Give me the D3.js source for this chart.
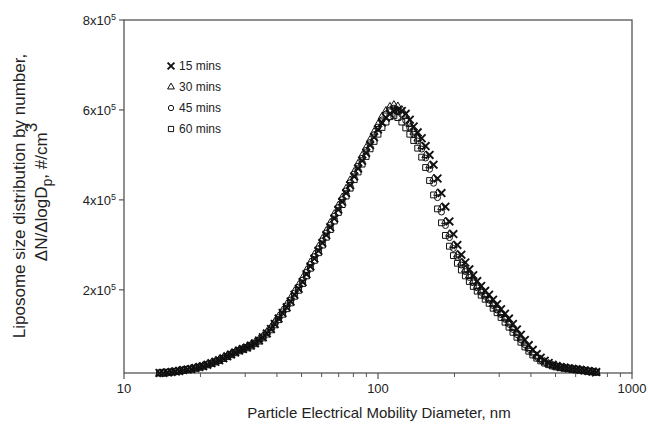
<!DOCTYPE html>
<html>
<head>
<meta charset="utf-8">
<script src="https://cdn.jsdelivr.net/npm/d3@7"></script>
<style>
  body { margin: 0; background: #fff; }
  svg { display: block; font-family: "Liberation Sans", Arial, sans-serif; }
</style>
</head>
<body>
<svg width="648" height="436"></svg>
<script>
// SMPS channel mid-point diameters, nm
const diameters = [13.8, 14.3, 14.9, 15.4, 16.0, 16.5, 17.1, 17.8, 18.4, 19.1, 19.8, 20.5, 21.3, 22.1, 22.9, 23.7, 24.6, 25.5, 26.4, 27.4,
  28.4, 29.4, 30.5, 31.6, 32.8, 34.0, 35.2, 36.5, 37.9, 39.2, 40.6, 42.1, 43.7, 45.3, 46.9, 48.7, 50.5, 52.3, 54.2, 56.2,
  58.3, 60.4, 62.6, 64.9, 67.3, 69.8, 72.3, 74.9, 77.7, 80.6, 83.5, 86.6, 89.8, 93.1, 96.5, 100.0, 103.7, 107.5, 111.4, 115.5,
  119.7, 124.1, 128.6, 133.4, 138.2, 143.3, 148.6, 154.0, 159.6, 165.5, 171.5, 177.8, 184.3, 191.1, 198.1, 205.4, 212.9, 220.7, 228.8, 237.2,
  245.8, 254.8, 264.2, 273.8, 283.9, 294.3, 305.1, 316.3, 327.8, 339.8, 352.3, 365.2, 378.6, 392.4, 406.8, 421.7, 437.1, 453.2, 469.8, 487.0,
  504.8, 523.3, 542.5, 562.3, 582.9, 604.3, 626.4, 649.4, 673.2, 697.8, 723.4];

const mins15 = [15000, 15000, 16100, 17200, 18300, 19400, 21500, 22600, 23700, 25900,
  28100, 30200, 33500, 36800, 40000, 43300, 47600, 52000, 56300, 60700,
  65000, 68300, 71600, 75900, 81000, 87000, 94500, 103000, 113000, 124000,
  136000, 148500, 161000, 174000, 189000, 202100, 217300, 234700, 252100, 269500,
  286900, 304300, 321700, 339100, 358700, 378200, 395600, 415200, 432600, 452200,
  469600, 487000, 504400, 521800, 539200, 556600, 571800, 582700, 591400, 597900,
  600100, 597900, 591400, 578300, 563100, 550100, 537000, 519600, 500000, 478300,
  447800, 415200, 384800, 352100, 323900, 299900, 278200, 260800, 245600, 232500,
  219500, 208600, 197700, 189000, 178000, 168000, 157000, 147000, 136000, 124000,
  112000, 100000, 88500, 77000, 66500, 57000, 49000, 42500, 37500, 33500,
  30500, 28500, 27000, 25800, 24600, 23300, 22000, 20500, 19200, 18000,
  17000];

const mins30 = [14500, 15500, 16000, 17500, 18800, 20000, 21000, 23000, 24500, 26500,
  28800, 31000, 34500, 37500, 41000, 44500, 48800, 53500, 57500, 62000,
  66000, 69500, 73000, 77500, 83000, 89500, 97000, 106000, 116500, 128500,
  141000, 154000, 167500, 181500, 196500, 210500, 226500, 243500, 261000, 278500,
  296000, 313500, 331000, 349000, 368500, 387500, 405500, 425000, 443500, 462500,
  480500, 498500, 516000, 533500, 551000, 568000, 585000, 598000, 607000, 611000,
  608000, 600000, 586000, 568000, 551000, 536000, 519000, 499000, 476000, 447000,
  415000, 383000, 352000, 324000, 299000, 278000, 260000, 245000, 232000, 219500,
  208000, 197500, 188500, 179500, 168000, 158000, 147500, 137000, 126000, 114500,
  103000, 91500, 80500, 70000, 60500, 52500, 45500, 40000, 35500, 32000,
  29500, 27500, 26000, 24800, 23800, 22700, 21500, 20400, 19300, 18200,
  17000];

const mins45 = [15500, 14800, 16500, 17000, 18500, 19800, 21200, 22800, 24200, 26200,
  28500, 30800, 34000, 37200, 40500, 44000, 48200, 52800, 57000, 61500,
  65500, 69000, 72500, 76800, 82000, 88000, 95500, 104500, 115000, 126500,
  138500, 151000, 164000, 177500, 192500, 206000, 221500, 239000, 256500, 274000,
  291500, 309000, 326500, 344000, 363500, 383000, 400500, 420000, 438000, 457500,
  475000, 492500, 510000, 527500, 545000, 562000, 578000, 591000, 600000, 604000,
  600000, 590000, 576000, 560000, 546000, 531000, 513000, 493000, 468000, 437000,
  405000, 373000, 343000, 316000, 292000, 272000, 255000, 240500, 227500, 215500,
  204500, 194500, 185500, 177000, 165000, 155000, 145000, 134500, 123500, 112000,
  100500, 89000, 78000, 68000, 59000, 51000, 44500, 39000, 35000, 31800,
  29300, 27300, 25800, 24600, 23500, 22300, 21200, 20100, 19000, 18000,
  16800];

const mins60 = [14800, 15200, 16300, 17400, 18000, 19200, 21000, 22300, 23500, 25500,
  27800, 29800, 33000, 36200, 39500, 42800, 47000, 51400, 55600, 60000,
  64200, 67500, 70800, 75000, 80000, 86000, 93000, 101500, 111000, 122000,
  133500, 145500, 158000, 171000, 185500, 199000, 214000, 231000, 248000, 265500,
  282500, 299500, 317000, 334000, 353000, 372000, 389500, 408500, 426000, 445000,
  462000, 479500, 496500, 513500, 530000, 546000, 561000, 573000, 585000, 587000,
  583000, 573000, 560000, 546000, 532000, 515000, 495000, 472000, 443000, 411000,
  380000, 349000, 321000, 297000, 276000, 259000, 244000, 231000, 218500, 207500,
  197000, 188000, 179000, 170000, 159000, 149000, 138500, 128000, 117000, 105500,
  94500, 83500, 73000, 63500, 55000, 48000, 42000, 37000, 33500, 30500,
  28500, 26700, 25300, 24200, 23000, 22000, 20900, 19800, 18700, 17600,
  16500];

const seriesNames = ["15 mins", "30 mins", "45 mins", "60 mins"];
const yTicks = [200000, 400000, 600000, 800000];
const xTicks = [10, 100, 1000];

const svg = d3.select("svg");
const plotLeft = 124, plotRight = 632, plotTop = 20, plotBottom = 373;
const ink = "#111";
const axisColor = "#555";

const x = d3.scaleLog().domain([10, 1000]).range([plotLeft, plotRight]);
const y = d3.scaleLinear().domain([15000, 800000]).range([plotBottom, plotTop]);

const symbols = [
  { type: d3.symbolTimes, size: 40, sw: 1.9 },
  { type: d3.symbolTriangle, size: 25, sw: 1 },
  { type: d3.symbolCircle, size: 28, sw: 1 },
  { type: d3.symbolSquare, size: 34, sw: 1 }
];
const allSeries = [mins15, mins30, mins45, mins60];

// frame
svg.append("rect")
  .attr("x", plotLeft).attr("y", plotTop)
  .attr("width", plotRight - plotLeft).attr("height", plotBottom - plotTop)
  .attr("fill", "none").attr("stroke", axisColor).attr("stroke-width", 1.3);

// x axis ticks (log, outside)
const minorX = [];
[10, 100].forEach(d => { for (let k = 2; k <= 9; k++) minorX.push(d * k); });
svg.append("g").selectAll("line.minor")
  .data(minorX).enter().append("line")
  .attr("x1", d => x(d)).attr("x2", d => x(d))
  .attr("y1", plotBottom).attr("y2", plotBottom + 4)
  .attr("stroke", axisColor).attr("stroke-width", 1);
svg.append("g").selectAll("line.major")
  .data(xTicks).enter().append("line")
  .attr("x1", d => x(d)).attr("x2", d => x(d))
  .attr("y1", plotBottom).attr("y2", plotBottom + 6)
  .attr("stroke", axisColor).attr("stroke-width", 1.2);
svg.append("g").selectAll("text")
  .data(xTicks).enter().append("text")
  .attr("x", d => x(d)).attr("y", plotBottom + 20)
  .attr("text-anchor", "middle")
  .attr("font-size", 13).attr("fill", "#222")
  .text(d => d);

// y axis ticks
svg.append("g").selectAll("line")
  .data(yTicks).enter().append("line")
  .attr("x1", plotLeft - 5).attr("x2", plotLeft)
  .attr("y1", d => y(d)).attr("y2", d => y(d))
  .attr("stroke", axisColor).attr("stroke-width", 1.2);
const yl = svg.append("g").selectAll("text")
  .data(yTicks).enter().append("text")
  .attr("x", plotLeft - 8).attr("y", d => y(d) + 5)
  .attr("text-anchor", "end")
  .attr("font-size", 13).attr("fill", "#222");
yl.append("tspan").text(d => (d / 100000) + "x10");
yl.append("tspan").attr("dy", -5).attr("font-size", 9).text("5");

// axis titles
svg.append("text")
  .attr("x", (plotLeft + plotRight) / 2 + 1).attr("y", 418)
  .attr("text-anchor", "middle").attr("font-size", 15).attr("fill", "#222")
  .text("Particle Electrical Mobility Diameter, nm");

const yt = svg.append("g").attr("transform", "translate(25,196) rotate(-90)");
yt.append("text").attr("text-anchor", "middle").attr("font-size", 17).attr("fill", "#222")
  .text("Liposome size distribution by number,");
const yt2 = yt.append("text").attr("x", 4).attr("y", 22).attr("text-anchor", "middle")
  .attr("font-size", 17).attr("fill", "#222");
yt2.append("tspan").text("\u0394N/\u0394logD");
yt2.append("tspan").attr("dy", 5).attr("font-size", 14).text("p");
yt2.append("tspan").attr("dy", -5).text(", #/cm");
yt2.append("tspan").attr("dy", -10).attr("font-size", 17).text("3");

// data markers
allSeries.forEach((vals, s) => {
  const sym = d3.symbol().type(symbols[s].type).size(symbols[s].size);
  svg.append("g")
    .selectAll("path")
    .data(vals.map((v, i) => ({ d: diameters[i], v })))
    .enter().append("path")
    .attr("d", sym)
    .attr("transform", p => `translate(${x(p.d)},${y(p.v)})`)
    .attr("fill", "none")
    .attr("stroke", ink)
    .attr("stroke-width", symbols[s].sw);
});

// legend
const legend = svg.append("g");
seriesNames.forEach((name, s) => {
  const ly = 66 + s * 21;
  legend.append("path")
    .attr("d", d3.symbol().type(symbols[s].type).size(symbols[s].size * 0.8)())
    .attr("transform", `translate(171,${ly})`)
    .attr("fill", "none").attr("stroke", ink).attr("stroke-width", symbols[s].sw);
  legend.append("text")
    .attr("x", 179).attr("y", ly + 4)
    .attr("font-size", 12).attr("fill", "#222")
    .text(name);
});
</script>
</body>
</html>
